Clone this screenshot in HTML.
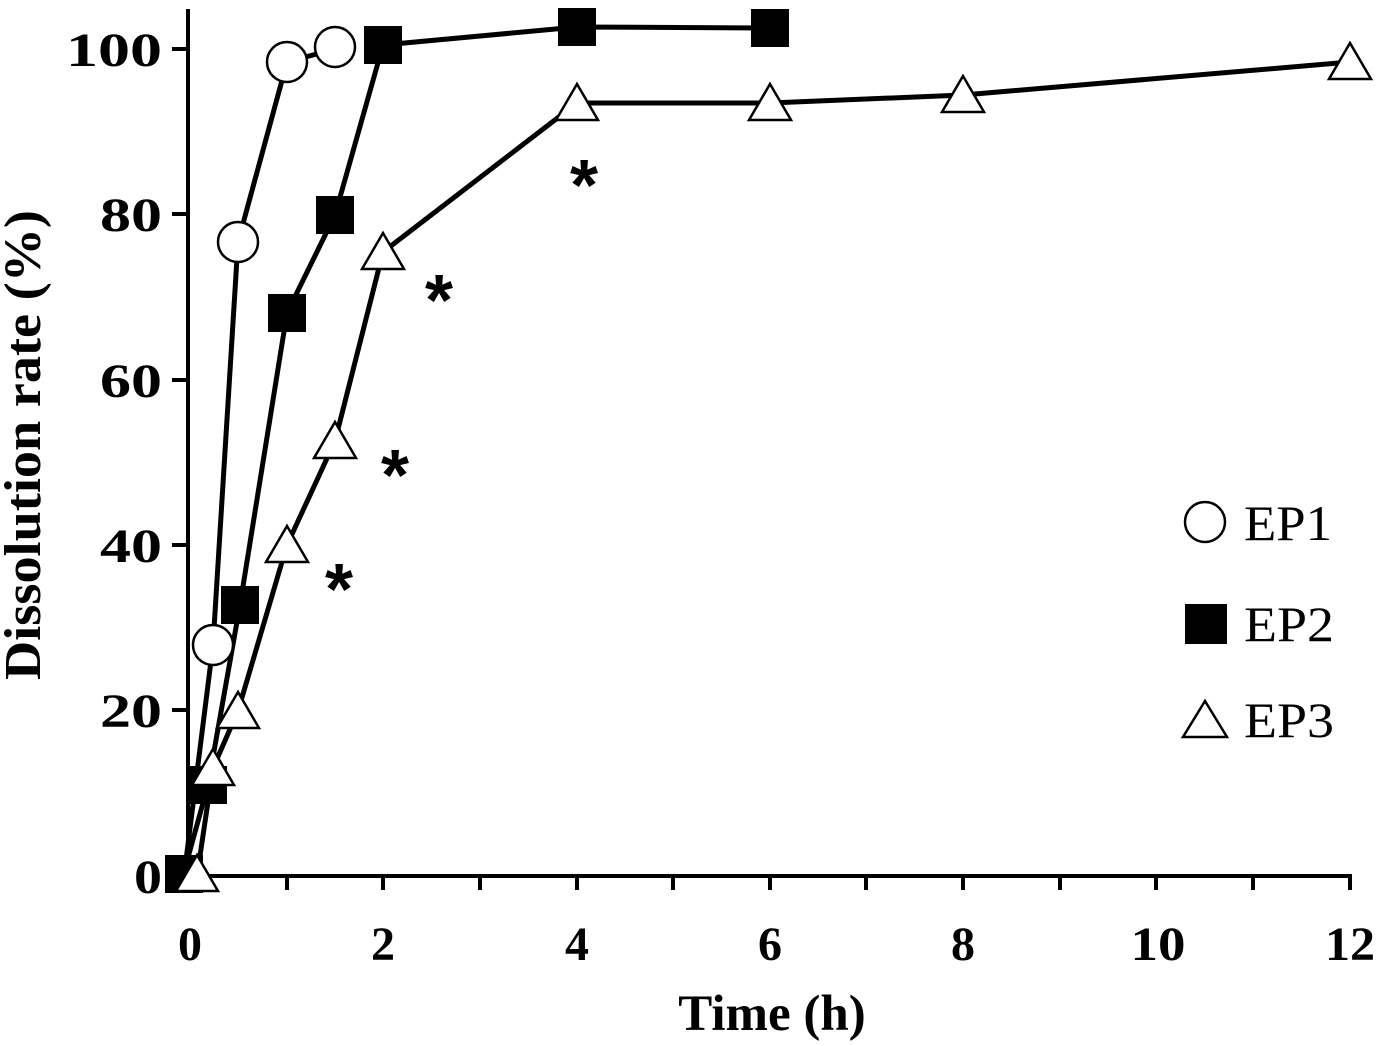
<!DOCTYPE html>
<html><head><style>body{margin:0;background:#fff}svg{display:block}</style></head><body>
<svg width="1378" height="1046" xmlns="http://www.w3.org/2000/svg" font-family="Liberation Serif, serif" font-weight="bold">
<g stroke="#000" stroke-width="4" fill="none">
<line x1="188" y1="9" x2="188" y2="878"/>
<line x1="186" y1="876" x2="1352" y2="876"/>
<path d="M172 49H188M172 214H188M172 380H188M172 545H188M172 710H188M172 876H188"/>
<path d="M287 876V890M383 876V890M480 876V890M577 876V890M673 876V890M770 876V890M866 876V890M963 876V890M1060 876V890M1156 876V890M1253 876V890M1350 876V890"/>
</g>
<g font-size="48" text-anchor="end" lengthAdjust="spacingAndGlyphs">
<text x="162" y="893" textLength="28" lengthAdjust="spacingAndGlyphs">0</text>
<text x="162" y="727" textLength="62" lengthAdjust="spacingAndGlyphs">20</text>
<text x="162" y="562" textLength="62" lengthAdjust="spacingAndGlyphs">40</text>
<text x="162" y="397" textLength="62" lengthAdjust="spacingAndGlyphs">60</text>
<text x="162" y="231" textLength="62" lengthAdjust="spacingAndGlyphs">80</text>
<text x="162" y="66" textLength="96" lengthAdjust="spacingAndGlyphs">100</text>
</g>
<g font-size="48" text-anchor="middle">
<text x="190" y="960">0</text><text x="383" y="960">2</text><text x="577" y="960">4</text><text x="770" y="960">6</text><text x="963" y="960">8</text><text x="1158" y="960" textLength="55" lengthAdjust="spacingAndGlyphs">10</text><text x="1350" y="960" textLength="50" lengthAdjust="spacingAndGlyphs">12</text>
<text x="772" y="1030" font-size="51">Time (h)</text>
<text transform="translate(40,445) rotate(-90)" font-size="52" textLength="470" lengthAdjust="spacingAndGlyphs">Dissolution rate (%)</text>
</g>
<g stroke="#000" stroke-width="5" fill="none" stroke-linejoin="round">
<polyline points="184,876 213,645 238,242 287,62 335,49"/>
<polyline points="184,872 208,785 240,605 287,313 335,215 383,45 577,27 770,28"/>
<polyline points="197,876 213,768 238,711 287,545 335,441 383,252 577,103 770,103 963,95 1350,62"/>
</g>
<g stroke="#000" stroke-width="2.5" fill="#fff">
<circle cx="213" cy="645" r="20"/><circle cx="238" cy="242" r="20"/><circle cx="287" cy="62" r="20"/><circle cx="335" cy="47" r="20"/>
</g>
<g fill="#000">
<rect x="165" y="855" width="38" height="38"/><rect x="189" y="766" width="38" height="38"/><rect x="221" y="586" width="38" height="38"/><rect x="268" y="294" width="38" height="38"/><rect x="316" y="196" width="38" height="38"/><rect x="364" y="26" width="38" height="38"/><rect x="558" y="8" width="38" height="38"/><rect x="751" y="9" width="38" height="38"/>
</g>
<g stroke="#000" stroke-width="2.5" fill="#fff">
<path d="M197 855L218 891H176Z"/><path d="M213 749L234 785H192Z"/><path d="M238 692L259 728H217Z"/><path d="M287 526L308 562H266Z"/><path d="M335 422L356 458H314Z"/><path d="M383 233L404 269H362Z"/><path d="M577 84L598 120H556Z"/><path d="M770 84L791 120H749Z"/><path d="M963 76L984 112H942Z"/><path d="M1350 43L1371 79H1329Z"/>
</g>
<g font-size="72" text-anchor="middle" font-family="Liberation Sans, sans-serif">
<text x="584" y="210">*</text><text x="439" y="325">*</text><text x="395" y="500">*</text><text x="339" y="614">*</text>
</g>
<circle cx="1205" cy="522" r="20" stroke="#000" stroke-width="2.5" fill="#fff"/>
<rect x="1185" y="604" width="42" height="40" fill="#000"/>
<path d="M1205 701L1227 737H1183Z" stroke="#000" stroke-width="2.5" fill="#fff"/>
<g font-size="50" font-weight="normal">
<text x="1244" y="540" textLength="88" lengthAdjust="spacingAndGlyphs">EP1</text><text x="1244" y="641" textLength="90" lengthAdjust="spacingAndGlyphs">EP2</text><text x="1244" y="737" textLength="90" lengthAdjust="spacingAndGlyphs">EP3</text>
</g>
</svg>
</body></html>
